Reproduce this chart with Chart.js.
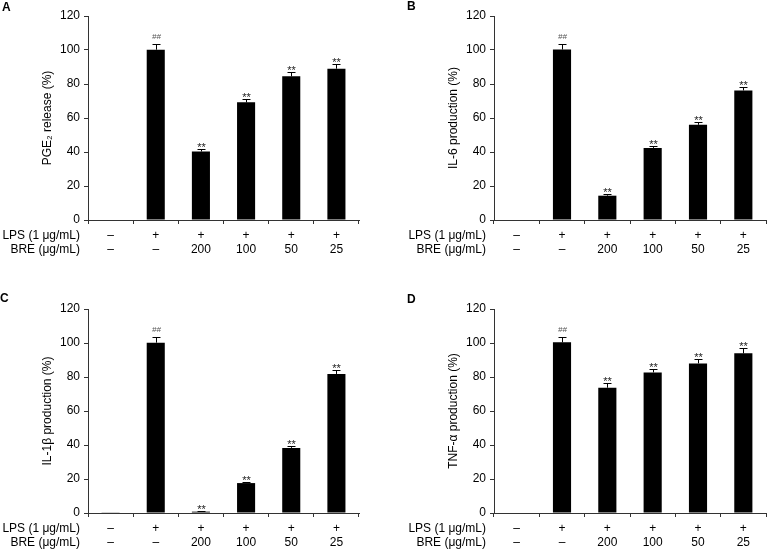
<!DOCTYPE html>
<html>
<head>
<meta charset="utf-8">
<script src="https://cdn.jsdelivr.net/npm/chart.js@4.4.0/dist/chart.umd.min.js"></script>
<style>
  body { margin: 0; background: #fff; width: 767px; height: 551px; position: relative; overflow: hidden; }
  canvas { position: absolute; }
</style>
</head>
<body>
<canvas id="chartA" width="361" height="275" style="left:0;top:0"></canvas>
<canvas id="chartB" width="361" height="275" style="left:406px;top:0"></canvas>
<canvas id="chartC" width="361" height="276" style="left:0;top:275px"></canvas>
<canvas id="chartD" width="361" height="276" style="left:406px;top:275px"></canvas>
<script>
// ===== DATA =====
const lpsRow = ["–", "+", "+", "+", "+", "+"];
const breRow = ["–", "–", "200", "100", "50", "25"];
const yTicks = [0, 20, 40, 60, 80, 100, 120];
const marks = ["", "##", "**", "**", "**", "**"];

const pge2 = [0, 100.2, 40.3, 69.2, 84.5, 89.0];
const pge2Err = [0, 3.1, 1.4, 1.9, 2.5, 2.5];

const il6 = [0, 100.3, 14.3, 42.4, 56.0, 76.2];
const il6Err = [0, 3.5, 0.8, 1.2, 1.6, 2.2];

const il1b = [0.4, 100.2, 0.8, 17.6, 38.3, 81.8];
const il1bErr = [0, 3.1, 0.2, 0.6, 1.4, 2.2];

const tnf = [0, 100.4, 73.7, 82.7, 88.0, 93.9];
const tnfErr = [0, 3.1, 2.7, 2.3, 2.6, 3.0];

const FONT = "'Liberation Sans', Arial, Helvetica, sans-serif";
const TICK_LEN = 4;
const X_PAD = 4.5;

// error bars, significance marks, panel letter, row headers
const extras = {
  id: "extras",
  afterDatasetsDraw(chart, args, opts) {
    const ctx = chart.ctx;
    const y = chart.scales.y;
    const meta = chart.getDatasetMeta(0);
    ctx.save();
    ctx.strokeStyle = "#000";
    ctx.lineWidth = 1;
    opts.values.forEach((v, i) => {
      const e = opts.errors[i];
      const cx = Math.round(meta.data[i].x) + 0.5;
      const base = y.getPixelForValue(v);
      const top = Math.round(y.getPixelForValue(v + e)) + 0.5;
      if (e > 0) {
        ctx.beginPath();
        ctx.moveTo(cx, base);
        ctx.lineTo(cx, top);
        ctx.moveTo(cx - 4, top);
        ctx.lineTo(cx + 4, top);
        ctx.stroke();
      }
      const m = marks[i];
      if (m === "##") {
        ctx.font = "italic 8px " + FONT;
        ctx.fillStyle = "#555";
        ctx.textAlign = "center";
        ctx.textBaseline = "alphabetic";
        ctx.fillText(m, cx, top - 5.5);
      } else if (m) {
        ctx.font = "11px " + FONT;
        ctx.fillStyle = "#222";
        ctx.textAlign = "center";
        ctx.textBaseline = "alphabetic";
        ctx.fillText(m, cx, top + 1.5);
      }
    });
    ctx.restore();
  },
  afterDraw(chart, args, opts) {
    const ctx = chart.ctx;
    const x = chart.scales.x;
    ctx.save();
    ctx.fillStyle = "#000";
    ctx.font = "bold 12px " + FONT;
    ctx.textAlign = "left";
    ctx.textBaseline = "middle";
    ctx.fillText(opts.letter, opts.letterX, opts.letterY);

    ctx.font = "12px " + FONT;
    ctx.textAlign = "right";
    const row1 = x.top + TICK_LEN + X_PAD + 7.2;
    ctx.fillText("LPS (1 μg/mL)", chart.chartArea.left - 8, row1);
    ctx.fillText("BRE (μg/mL)", chart.chartArea.left - 8, row1 + 14.4);
    ctx.restore();
  }
};

function makePanel(id, values, errors, title, letter, letterX, letterY, top, bottom, right) {
  const canvas = document.getElementById(id);
  const W = canvas.width, H = canvas.height;
  new Chart(canvas, {
    type: "bar",
    data: {
      labels: lpsRow.map((l, i) => [l, breRow[i]]),
      datasets: [{
        data: values,
        backgroundColor: "#000",
        borderWidth: 0,
        barPercentage: 0.4,
        categoryPercentage: 1
      }]
    },
    options: {
      responsive: false,
      animation: false,
      layout: { padding: { left: 0, top: top, right: W - right, bottom: 0 } },
      plugins: {
        legend: { display: false },
        tooltip: { enabled: false },
        extras: { values, errors, letter, letterX, letterY }
      },
      scales: {
        x: {
          grid: { drawOnChartArea: false, tickLength: TICK_LEN, color: "#333", offset: true },
          border: { color: "#333", width: 1 },
          ticks: { color: "#000", font: { family: FONT, size: 12 }, padding: X_PAD, maxRotation: 0, autoSkip: false },
          afterFit: s => { s.height = H - bottom; }
        },
        y: {
          min: 0,
          max: 120,
          afterBuildTicks: s => { s.ticks = yTicks.map(v => ({ value: v })); },
          grid: { drawOnChartArea: false, tickLength: TICK_LEN, color: "#333" },
          border: { color: "#333", width: 1 },
          ticks: { color: "#000", font: { family: FONT, size: 12 }, padding: 4 },
          title: {
            display: true,
            text: title,
            color: "#000",
            font: { family: FONT, size: 12 },
            padding: { top: 40.8, bottom: 0 }
          },
          afterFit: s => { s.width = 88; }
        }
      }
    },
    plugins: [extras]
  });
}

makePanel("chartA", pge2, pge2Err, "PGE₂ release (%)", "A", 2, 7.5, 16, 220, 359);
makePanel("chartB", il6, il6Err, "IL-6 production (%)", "B", 1, 7, 16, 220, 360);
makePanel("chartC", il1b, il1bErr, "IL-1β production (%)", "C", 0, 23.5, 34, 238, 359);
makePanel("chartD", tnf, tnfErr, "TNF-α production (%)", "D", 1, 25, 34, 238, 360);
</script>
</body>
</html>
